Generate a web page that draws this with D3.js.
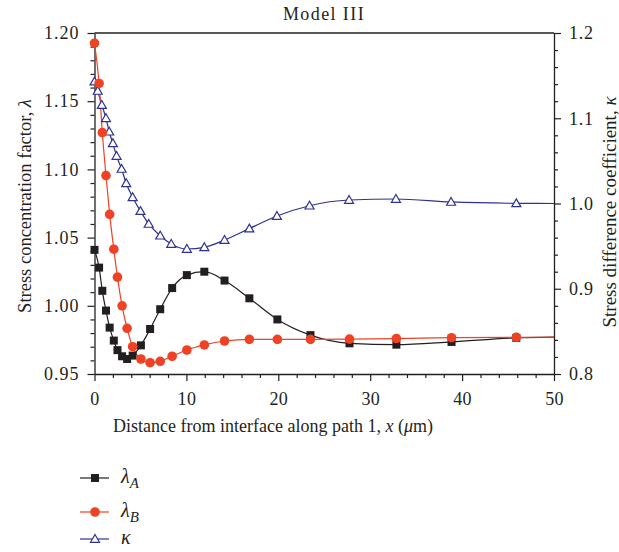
<!DOCTYPE html>
<html><head><meta charset="utf-8">
<script src="https://cdn.jsdelivr.net/npm/d3@7"></script>
<style>body{margin:0;background:#fff}svg{display:block}</style>
</head><body>
<svg id="c" width="619" height="552"></svg>
<script>
const distanceAB = [0, 0.5, 0.85, 1.25, 1.65, 2.1, 2.5, 3.0, 3.55, 4.15, 5.05, 6.05, 7.15, 8.45, 10.05, 11.95, 14.15, 16.85, 19.9, 23.5, 27.75, 32.85, 38.85, 45.9, 50];
const lambdaA = [1.041, 1.028, 1.011, 0.9965, 0.984, 0.9745, 0.9675, 0.963, 0.961, 0.9635, 0.971, 0.983, 0.9975, 1.013, 1.0225, 1.025, 1.0185, 1.0055, 0.990, 0.9785, 0.9725, 0.9715, 0.9735, 0.9765, 0.977];
const lambdaB = [1.1925, 1.163, 1.127, 1.0955, 1.067, 1.0415, 1.021, 1.000, 0.9835, 0.970, 0.961, 0.9583, 0.9593, 0.963, 0.9676, 0.9713, 0.9742, 0.9754, 0.9754, 0.9754, 0.9756, 0.976, 0.9766, 0.9769, 0.977];
const distanceK = [0, 0.35, 0.8, 1.25, 1.6, 2.0, 2.4, 2.95, 3.45, 4.15, 5.0, 5.9, 7.15, 8.35, 10.05, 11.95, 14.15, 16.85, 19.85, 23.4, 27.7, 32.8, 38.8, 45.9, 50];
const kappa = [1.143, 1.132, 1.1155, 1.100, 1.0842, 1.0706, 1.0557, 1.0405, 1.0237, 1.0073, 0.991, 0.976, 0.9622, 0.9525, 0.9466, 0.9486, 0.9572, 0.9705, 0.9853, 0.9974, 1.0041, 1.0053, 1.0018, 1.0002, 1.0];
const xTicks = [0, 10, 20, 30, 40, 50];
const yLeftTicks = [0.95, 1.00, 1.05, 1.10, 1.15, 1.20];
const yRightTicks = [0.8, 0.9, 1.0, 1.1, 1.2];

const FONT = "'Liberation Serif','Times New Roman',serif";
const INK = "#231f20";
const svg = d3.select("#c");
const L = 94.5, R = 554, T = 33, B = 374;
const x = d3.scaleLinear().domain([0, 50]).range([L, R]);
const yL = d3.scaleLinear().domain([0.95, 1.20]).range([B, T]);
const yR = d3.scaleLinear().domain([0.8, 1.2]).range([B, T]);

function styleAxis(g, size, ls) {
  g.selectAll("path").attr("stroke", INK).attr("stroke-width", 1.3);
  g.selectAll("line").attr("stroke", INK).attr("stroke-width", 1.2);
  g.selectAll("text").attr("font-family", FONT).attr("font-size", size).attr("fill", INK)
    .attr("letter-spacing", ls || 0);
}
// minor ticks
const minorX = d3.range(0, 50.001, 2).filter(v => v % 10 !== 0);
svg.append("g").attr("transform", `translate(0,${B})`)
  .call(d3.axisBottom(x).tickValues(minorX).tickSize(4).tickFormat("").tickSizeOuter(0))
  .call(g => { g.select("path").remove(); styleAxis(g, 18); });
const minorL = d3.range(0, 26).map(i => 0.95 + i * 0.01).filter((v, i) => i % 5 !== 0);
svg.append("g").attr("transform", `translate(${L},0)`)
  .call(d3.axisLeft(yL).tickValues(minorL).tickSize(4).tickFormat("").tickSizeOuter(0))
  .call(g => { g.select("path").remove(); styleAxis(g, 18); });
const minorR = d3.range(0, 21).map(i => 0.8 + i * 0.02).filter((v, i) => i % 5 !== 0);
svg.append("g").attr("transform", `translate(${R},0)`)
  .call(d3.axisRight(yR).tickValues(minorR).tickSize(4).tickFormat("").tickSizeOuter(0))
  .call(g => { g.select("path").remove(); styleAxis(g, 18); });

// major axes
svg.append("g").attr("transform", `translate(0,${B})`)
  .call(d3.axisBottom(x).tickValues(xTicks).tickSize(7).tickPadding(11).tickSizeOuter(0).tickFormat(d3.format("d")))
  .call(g => styleAxis(g, 18, 0.3));
svg.append("g").attr("transform", `translate(${L},0)`)
  .call(d3.axisLeft(yL).tickValues(yLeftTicks).tickSize(7).tickPadding(8).tickSizeOuter(0).tickFormat(d3.format(".2f")))
  .call(g => styleAxis(g, 18, 1));
svg.append("g").attr("transform", `translate(${R},0)`)
  .call(d3.axisRight(yR).tickValues(yRightTicks).tickSize(7).tickPadding(8).tickSizeOuter(0).tickFormat(d3.format(".1f")))
  .call(g => styleAxis(g, 18, 0.8));
svg.append("line").attr("x1", L).attr("x2", R).attr("y1", T).attr("y2", T)
  .attr("stroke", INK).attr("stroke-width", 1.3);

// titles
svg.append("text").attr("x", 324).attr("y", 20).attr("text-anchor", "middle")
  .attr("font-family", FONT).attr("font-size", 18).attr("letter-spacing", 1.4).attr("fill", INK).text("Model III");
const xt = svg.append("text").attr("x", 273).attr("y", 432).attr("text-anchor", "middle")
  .attr("font-family", FONT).attr("font-size", 18).attr("fill", INK);
xt.append("tspan").text("Distance from interface along path 1, ");
xt.append("tspan").attr("font-style", "italic").text("x");
xt.append("tspan").text(" (");
xt.append("tspan").attr("font-style", "italic").text("μ");
xt.append("tspan").text("m)");
const ylt = svg.append("text").attr("transform", "translate(31,206) rotate(-90)").attr("text-anchor", "middle")
  .attr("font-family", FONT).attr("font-size", 18.5).attr("fill", INK);
ylt.append("tspan").text("Stress concentration factor, ");
ylt.append("tspan").attr("font-style", "italic").text("λ");
const yrt = svg.append("text").attr("transform", "translate(616,212) rotate(-90)").attr("text-anchor", "middle")
  .attr("font-family", FONT).attr("font-size", 19).attr("fill", INK);
yrt.append("tspan").text("Stress difference coefficient, ");
yrt.append("tspan").attr("font-style", "italic").text("κ");

// series
const series = [
  {name: "A", xs: distanceAB, ys: lambdaA, y: yL, color: "#231f20", shape: "square"},
  {name: "B", xs: distanceAB, ys: lambdaB, y: yL, color: "#ef4123", shape: "circle"},
  {name: "k", xs: distanceK, ys: kappa, y: yR, color: "#2e3192", shape: "triangle"}
];
function marker(g, shape, color, cx, cy) {
  if (shape === "square") g.append("rect").attr("x", cx - 4).attr("y", cy - 4).attr("width", 8).attr("height", 8).attr("fill", color);
  else if (shape === "circle") g.append("circle").attr("cx", cx).attr("cy", cy).attr("r", 4.8).attr("fill", color);
  else g.append("path").attr("d", `M${cx},${cy - 4.5}L${cx + 4.5},${cy + 3.3}L${cx - 4.5},${cy + 3.3}Z`)
    .attr("fill", "#fff").attr("stroke", color).attr("stroke-width", 1.2);
}
const drawOrder = [series[2], series[0], series[1]];
drawOrder.forEach(s => {
  const pts = s.xs.map((d, i) => [d, s.ys[i]]);
  const line = d3.line().x(d => x(d[0])).y(d => s.y(d[1])).curve(d3.curveMonotoneX);
  svg.append("path").attr("d", line(pts)).attr("fill", "none").attr("stroke", s.color).attr("stroke-width", 1.2);
});
drawOrder.forEach(s => {
  const g = svg.append("g");
  s.xs.forEach((d, i) => { if (d < 50) marker(g, s.shape, s.color, x(d), s.y(s.ys[i])); });
});

// legend
const legY = [478, 512, 539];
const legLabels = [["λ", "A"], ["λ", "B"], ["κ", null]];
series.forEach((s, i) => {
  const g = svg.append("g");
  g.append("line").attr("x1", 80).attr("x2", 109).attr("y1", legY[i]).attr("y2", legY[i]).attr("stroke", s.color).attr("stroke-width", 1.2);
  marker(g, s.shape, s.color, 95, legY[i]);
  const t = g.append("text").attr("x", 121).attr("y", legY[i] + 5).attr("font-family", FONT).attr("font-size", 20).attr("fill", INK);
  t.append("tspan").attr("font-style", "italic").text(legLabels[i][0]);
  if (legLabels[i][1]) t.append("tspan").attr("font-style", "italic").attr("font-size", 15).attr("dy", 5).text(legLabels[i][1]);
});
</script>
</body></html>
